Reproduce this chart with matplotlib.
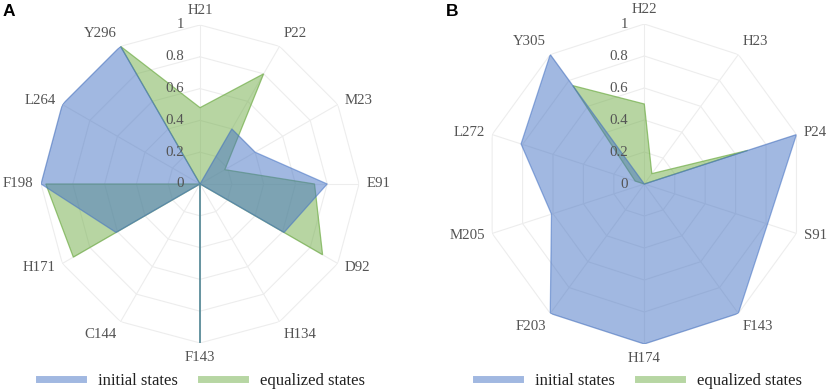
import numpy as np
import matplotlib.pyplot as plt
from matplotlib.colors import to_rgba
from matplotlib.lines import Line2D

plt.rcParams['font.family'] = ['Liberation Serif', 'DejaVu Serif']

# Panel A
cats_a = ['H21', 'P22', 'M23', 'E91', 'D92', 'H134', 'F143', 'C144', 'H171', 'F198', 'L264', 'Y296']
initial_a = [0, 0.40, 0.40, 0.80, 0.61, 0, 1.0, 0, 0.61, 1.0, 1.0, 1.0]
equalized_a = [0.48, 0.80, 0.18, 0.72, 0.89, 0, 1.0, 0, 0.92, 0.97, 0, 1.0]

# Panel B
cats_b = ['H22', 'H23', 'P24', 'S91', 'F143', 'H174', 'F203', 'M205', 'L272', 'Y305']
initial_b = [0, 0, 1.0, 0.81, 1.0, 1.0, 1.0, 0.61, 0.81, 1.0]
equalized_b = [0.50, 0.08, 0.68, 0, 0, 0, 0, 0, 0.06, 0.76]

levels = [0, 0.2, 0.4, 0.6, 0.8, 1.0]
level_labels = ['0', '0.2', '0.4', '0.6', '0.8', '1']
series_names = ['initial states', 'equalized states']

blue = '#4472C4'
green = '#70AD47'
gridc = '#EDEDED'
textc = '#545454'


def radar(ax, cats, init, eq):
    n = len(cats)
    theta = np.linspace(0, 2 * np.pi, n, endpoint=False)
    th = np.append(theta, theta[0])
    ax.set_theta_zero_location('N')
    ax.set_theta_direction(-1)
    ax.set_ylim(0, 1)
    ax.set_xticks([])
    ax.set_yticks([])
    ax.grid(False)
    ax.spines['polar'].set_visible(False)

    # polygon grid + spokes
    for lvl in levels[1:]:
        ax.plot(th, [lvl] * (n + 1), color=gridc, lw=0.8, zorder=1)
    for t in theta:
        ax.plot([t, t], [0, 1], color=gridc, lw=0.8, zorder=1)

    # series (green under blue)
    ax.fill(th, np.append(eq, eq[0]), facecolor=to_rgba(green, 0.5),
            edgecolor=to_rgba(green, 0.7), lw=0.9, zorder=2)
    ax.fill(th, np.append(init, init[0]), facecolor=to_rgba(blue, 0.5),
            edgecolor=to_rgba(blue, 0.55), lw=0.9, zorder=3)

    # category labels
    for t, c in zip(theta, cats):
        s, co = np.sin(t), np.cos(t)
        ha = 'left' if s > 0.1 else ('right' if s < -0.1 else 'center')
        va = 'bottom' if co > 0.6 else ('top' if co < -0.6 else 'center')
        ax.annotate(c, xy=(t, 1.0), xytext=(5.5 * s, 5.5 * co),
                    textcoords='offset points', ha=ha, va=va,
                    fontsize=10.7, color=textc, annotation_clip=False)

    # radial tick labels
    for lvl, lab in zip(levels, level_labels):
        ax.annotate(lab, xy=(0, lvl), xytext=(-11.5, 0),
                    textcoords='offset points', ha='right', va='center',
                    fontsize=10.7, color=textc, annotation_clip=False, zorder=4)


fig = plt.figure(figsize=(8.29, 3.91), dpi=100)
ax_a = fig.add_axes([0.0495, 0.1228, 318 / 829, 318 / 391], projection='polar')
ax_b = fig.add_axes([484.3 / 829, 47 / 391, 320 / 829, 320 / 391], projection='polar')

radar(ax_a, cats_a, initial_a, equalized_a)
radar(ax_b, cats_b, initial_b, equalized_b)

handles = [Line2D([0], [0], color='#A1B8E1', lw=5),
           Line2D([0], [0], color='#B7D6A3', lw=5)]
for cx in [202, 639]:
    fig.legend(handles, series_names, loc='center',
               bbox_to_anchor=(cx / 829, 1 - 381 / 391), bbox_transform=fig.transFigure,
               ncol=2, frameon=False, fontsize=12, handlelength=2.65,
               handletextpad=0.9, columnspacing=1.4, labelcolor='#222222')

fig.text(3 / 829, 1 - 16.5 / 391, 'A', fontsize=12.5, fontweight='bold',
         family='Liberation Sans', va='baseline', ha='left')
fig.text(446 / 829, 1 - 16.5 / 391, 'B', fontsize=12.5, fontweight='bold',
         family='Liberation Sans', va='baseline', ha='left')

fig.savefig('out.png', dpi=100)
